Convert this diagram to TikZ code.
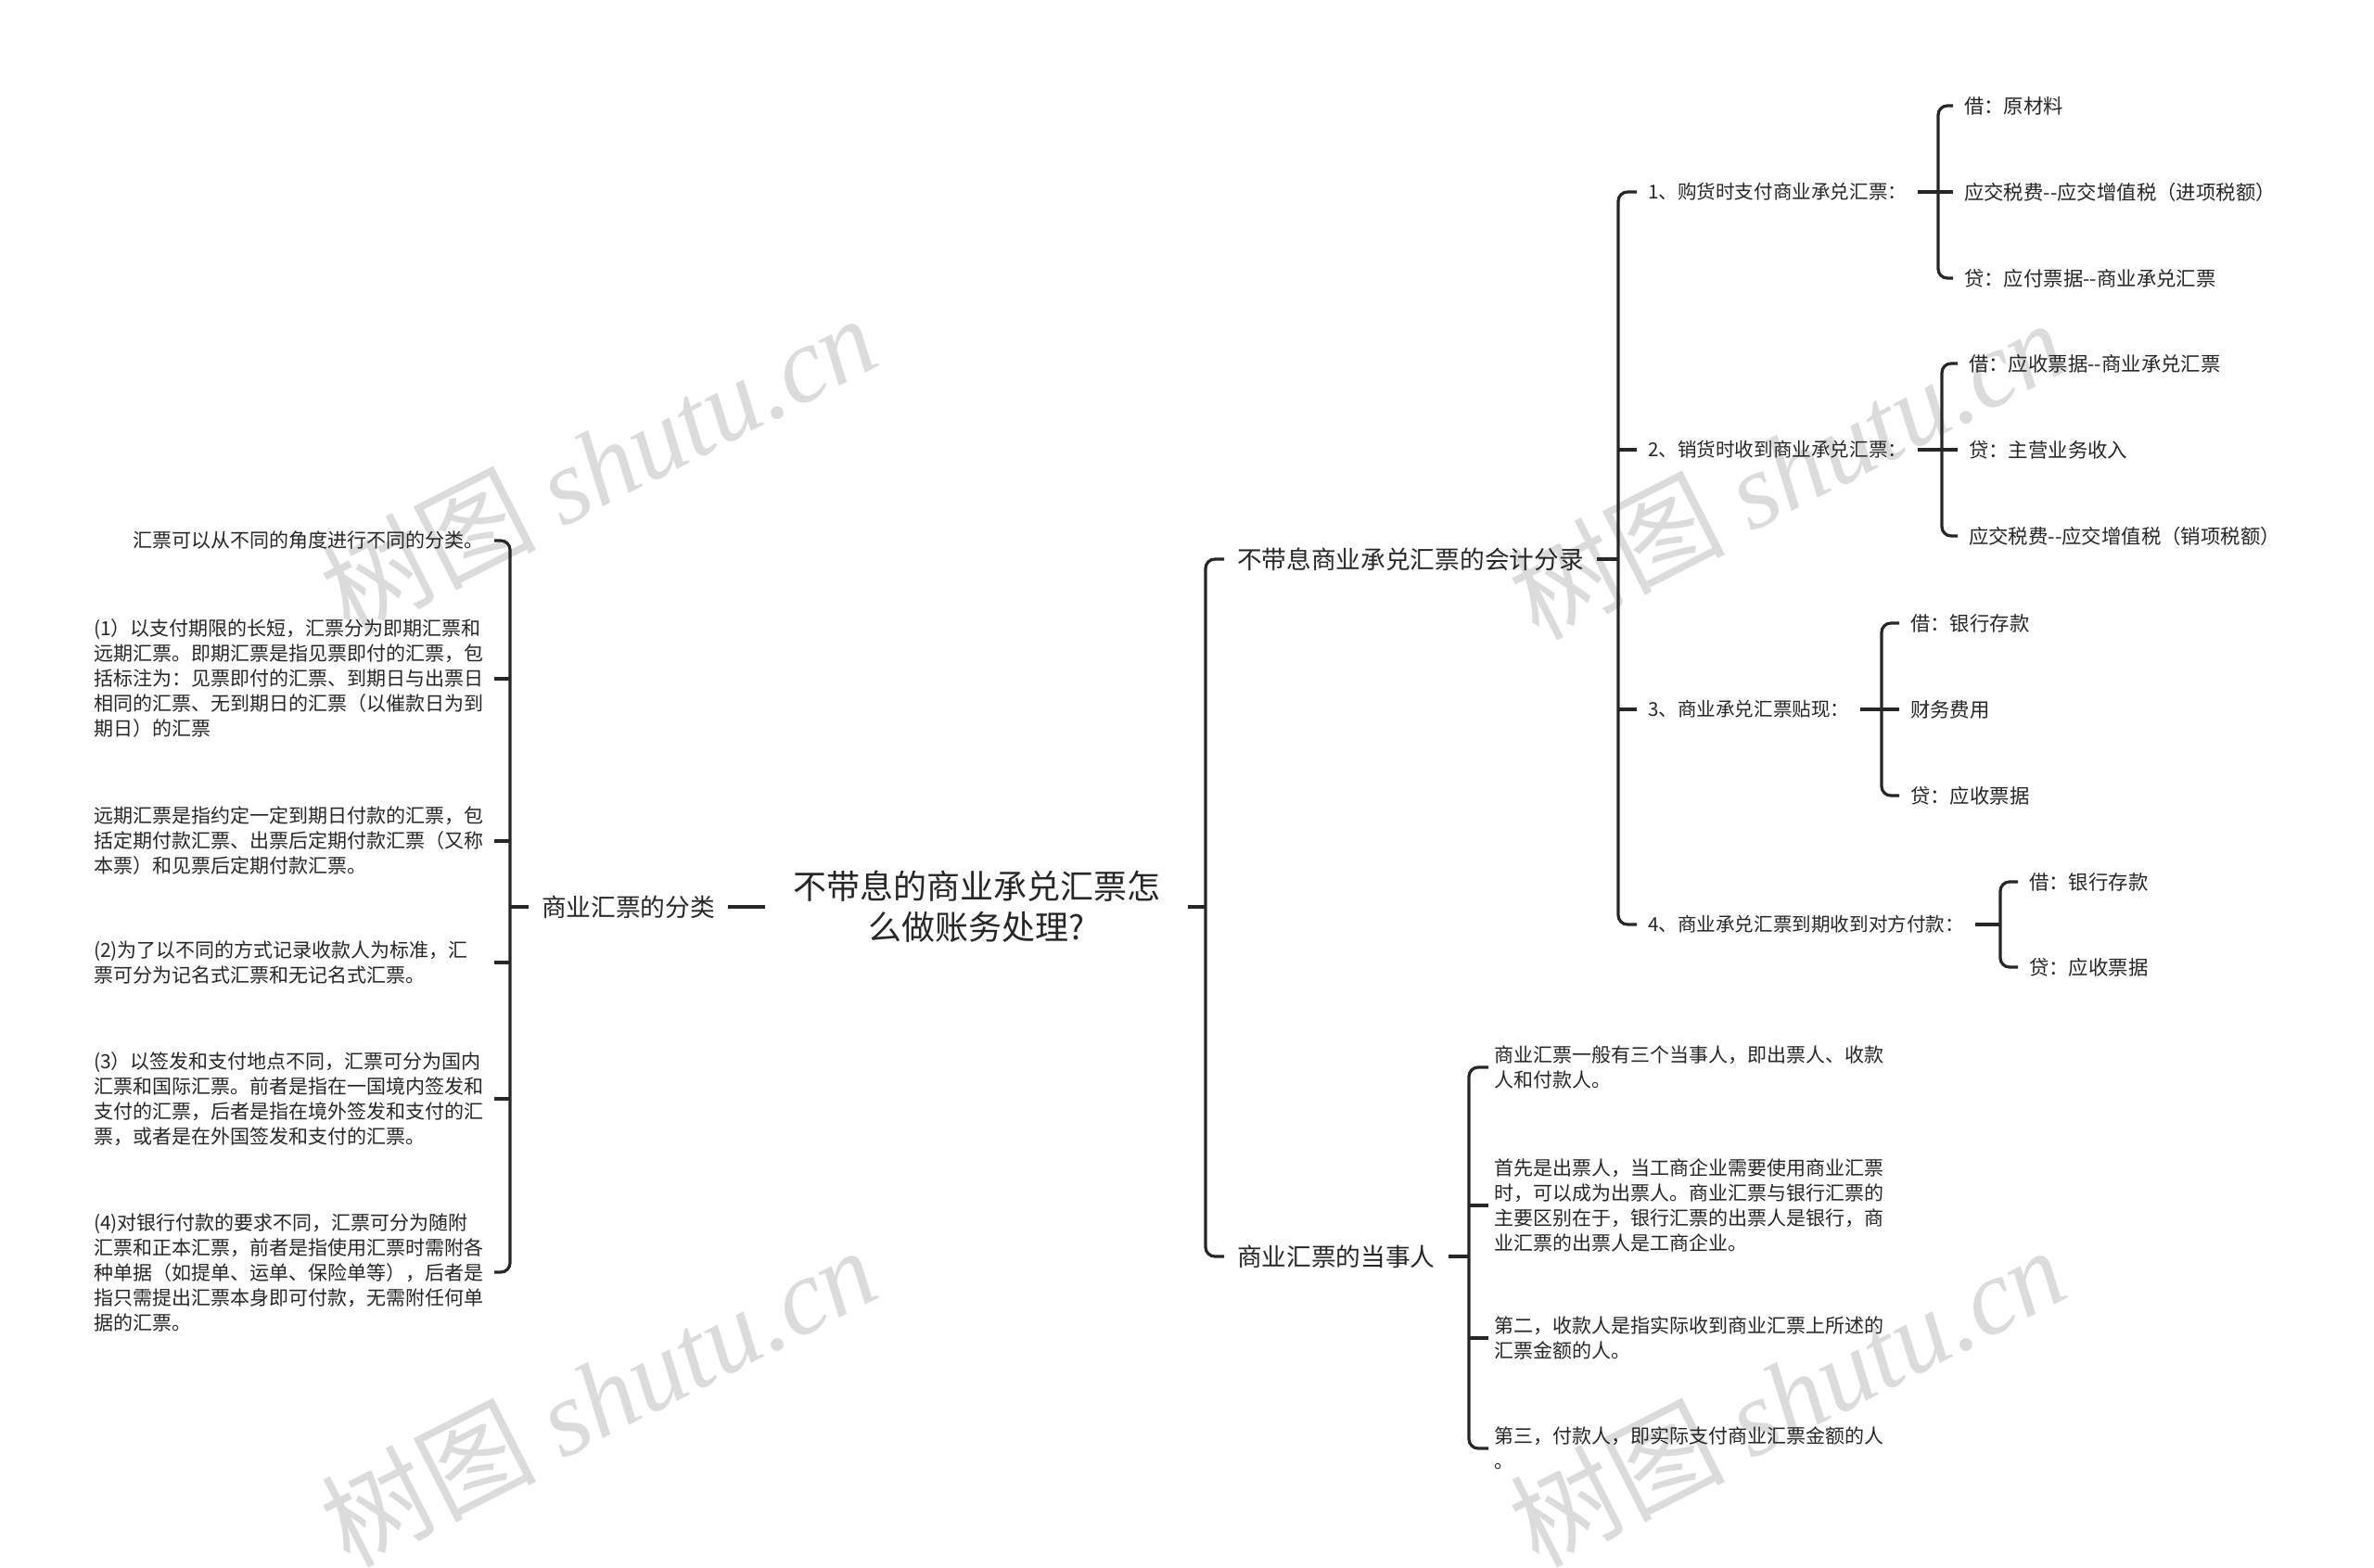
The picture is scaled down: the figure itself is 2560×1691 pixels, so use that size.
\documentclass[tikz,border=0pt]{standalone}
\usepackage{fontspec}
\setmainfont{Noto Sans CJK SC}
\newfontfamily\wmserif{Liberation Serif}
\usetikzlibrary{positioning}

\begin{document}
\begin{tikzpicture}[
    x=0.5pt, y=-0.5pt,
    line width=1.6pt,
    every node/.style={inner sep=0pt, text=black!85},
    rootnode/.style={font=\fontsize{18}{22}\selectfont, align=center, outer sep=15pt},
    branch/.style={font=\fontsize{13.35}{17}\selectfont, anchor=west, outer sep=7pt, xshift=-7pt},
    subbranch/.style={font=\fontsize{10.3}{13}\selectfont, anchor=west, outer sep=6pt, xshift=-6pt},
    leaf/.style={font=\fontsize{10.7}{13}\selectfont, anchor=west, outer sep=6pt, xshift=-6pt},
    note/.style={font=\fontsize{10.5}{13.5}\selectfont, anchor=west, align=left, text width=213pt, outer sep=3pt, xshift=-3pt},
    stub/.style={draw=black!85},
    bracket/.style={draw=black!85, rounded corners=5pt},
    watermark/.style={font=\fontsize{58}{58}\selectfont, text=black!14, rotate=27}
]
    \useasboundingbox (0,0) rectangle (2560,1691);

    \node (wm1) [watermark] at (645,500) {树图 {\wmserif\itshape shutu.cn}};
    \node (wm2) [watermark] at (1927,505) {树图 {\wmserif\itshape shutu.cn}};
    \node (wm3) [watermark] at (645,1505) {树图 {\wmserif\itshape shutu.cn}};
    \node (wm4) [watermark] at (1927,1505) {树图 {\wmserif\itshape shutu.cn}};

    \node (root) [rootnode] at (1053,978) {不带息的商业承兑汇票怎\\么做账务处理?};

    \node (cls) [branch] at (584,978) {商业汇票的分类};
    \node (n0) [note] at (101,583) {\hspace*{2em}汇票可以从不同的角度进行不同的分类。};
    \node (n1) [note] at (101,732) {(1）以支付期限的长短，汇票分为即期汇票和\\远期汇票。即期汇票是指见票即付的汇票，包\\括标注为：见票即付的汇票、到期日与出票日\\相同的汇票、无到期日的汇票（以催款日为到\\期日）的汇票};
    \node (n2) [note] at (101,907) {远期汇票是指约定一定到期日付款的汇票，包\\括定期付款汇票、出票后定期付款汇票（又称\\本票）和见票后定期付款汇票。};
    \node (n3) [note] at (101,1038) {(2)为了以不同的方式记录收款人为标准，汇\\票可分为记名式汇票和无记名式汇票。};
    \node (n4) [note] at (101,1185) {(3）以签发和支付地点不同，汇票可分为国内\\汇票和国际汇票。前者是指在一国境内签发和\\支付的汇票，后者是指在境外签发和支付的汇\\票，或者是在外国签发和支付的汇票。};
    \node (n5) [note] at (101,1372) {(4)对银行付款的要求不同，汇票可分为随附\\汇票和正本汇票，前者是指使用汇票时需附各\\种单据（如提单、运单、保险单等），后者是\\指只需提出汇票本身即可付款，无需附任何单\\据的汇票。};

    \node (brA) [branch] at (1334,603) {不带息商业承兑汇票的会计分录};
    \node (s1) [subbranch] at (1777,207) {1、购货时支付商业承兑汇票：};
    \node (s2) [subbranch] at (1777,485) {2、销货时收到商业承兑汇票：};
    \node (s3) [subbranch] at (1777,765) {3、商业承兑汇票贴现：};
    \node (s4) [subbranch] at (1777,997) {4、商业承兑汇票到期收到对方付款：};

    \node (l1a) [leaf] at (2118,114) {借：原材料};
    \node (l1b) [leaf] at (2118,207) {应交税费-{}-应交增值税（进项税额）};
    \node (l1c) [leaf] at (2118,300) {贷：应付票据-{}-商业承兑汇票};
    \node (l2a) [leaf] at (2123,392) {借：应收票据-{}-商业承兑汇票};
    \node (l2b) [leaf] at (2123,485) {贷：主营业务收入};
    \node (l2c) [leaf] at (2123,578) {应交税费-{}-应交增值税（销项税额）};
    \node (l3a) [leaf] at (2060,672) {借：银行存款};
    \node (l3b) [leaf] at (2060,765) {财务费用};
    \node (l3c) [leaf] at (2060,858) {贷：应收票据};
    \node (l4a) [leaf] at (2188,951) {借：银行存款};
    \node (l4b) [leaf] at (2188,1043) {贷：应收票据};

    \node (brB) [branch] at (1334,1355) {商业汇票的当事人};
    \node (m1) [note] at (1611,1151) {商业汇票一般有三个当事人，即出票人、收款\\人和付款人。};
    \node (m2) [note] at (1611,1300) {首先是出票人，当工商企业需要使用商业汇票\\时，可以成为出票人。商业汇票与银行汇票的\\主要区别在于，银行汇票的出票人是银行，商\\业汇票的出票人是工商企业。};
    \node (m3) [note] at (1611,1443) {第二，收款人是指实际收到商业汇票上所述的\\汇票金额的人。};
    \node (m4) [note] at (1611,1562) {第三，付款人，即实际支付商业汇票金额的人\\。};

    \coordinate (vL) at (550,0);
    \coordinate (vR) at (1300,0);
    \coordinate (vA) at (1745,0);
    \coordinate (v1) at (2090,0);
    \coordinate (v2) at (2094,0);
    \coordinate (v3) at (2029,0);
    \coordinate (v4) at (2157,0);
    \coordinate (vB) at (1584,0);

    \draw [stub] (cls.east) -- (root.west);
    \draw [stub] (cls.west) -- (vL |- cls.west);
    \draw [bracket] (n0.east) -- (vL |- n0.east) -- (vL |- n5.east) -- (n5.east);
    \draw [stub] (n1.east) -- (vL |- n1.east);
    \draw [stub] (n2.east) -- (vL |- n2.east);
    \draw [stub] (n3.east) -- (vL |- n3.east);
    \draw [stub] (n4.east) -- (vL |- n4.east);

    \draw [stub] (root.east) -- (vR |- root.east);
    \draw [bracket] (brA.west) -- (vR |- brA.west) -- (vR |- brB.west) -- (brB.west);

    \draw [stub] (brA.east) -- (vA |- brA.east);
    \draw [bracket] (s1.west) -- (vA |- s1.west) -- (vA |- s4.west) -- (s4.west);
    \draw [stub] (vA |- s2.west) -- (s2.west);
    \draw [stub] (vA |- s3.west) -- (s3.west);

    \draw [stub] (s1.east) -- (v1 |- s1.east);
    \draw [bracket] (l1a.west) -- (v1 |- l1a.west) -- (v1 |- l1c.west) -- (l1c.west);
    \draw [stub] (v1 |- l1b.west) -- (l1b.west);

    \draw [stub] (s2.east) -- (v2 |- s2.east);
    \draw [bracket] (l2a.west) -- (v2 |- l2a.west) -- (v2 |- l2c.west) -- (l2c.west);
    \draw [stub] (v2 |- l2b.west) -- (l2b.west);

    \draw [stub] (s3.east) -- (v3 |- s3.east);
    \draw [bracket] (l3a.west) -- (v3 |- l3a.west) -- (v3 |- l3c.west) -- (l3c.west);
    \draw [stub] (v3 |- l3b.west) -- (l3b.west);

    \draw [stub] (s4.east) -- (v4 |- s4.east);
    \draw [bracket] (l4a.west) -- (v4 |- l4a.west) -- (v4 |- l4b.west) -- (l4b.west);

    \draw [stub] (brB.east) -- (vB |- brB.east);
    \draw [bracket] (m1.west) -- (vB |- m1.west) -- (vB |- m4.west) -- (m4.west);
    \draw [stub] (vB |- m2.west) -- (m2.west);
    \draw [stub] (vB |- m3.west) -- (m3.west);

\end{tikzpicture}
\end{document}
